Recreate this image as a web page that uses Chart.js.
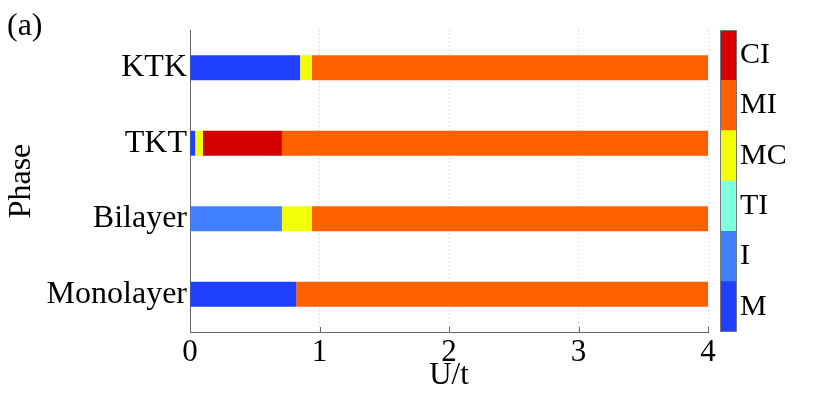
<!DOCTYPE html>
<html><head><meta charset="utf-8">
<script src="https://cdn.jsdelivr.net/npm/chart.js@4/dist/chart.umd.min.js"></script>
<style>
body{margin:0;background:#fff;width:830px;height:398px;overflow:hidden;position:relative;}
#main{position:absolute;left:0;top:0}
#cbar{position:absolute;left:700px;top:0}
#lab{position:absolute;left:7px;top:8px;font:32px/1 "Liberation Serif",serif;color:#000}
</style></head><body>
<canvas id="main" width="830" height="398"></canvas>
<canvas id="cbar" width="130" height="398"></canvas>
<div id="lab">(a)</div>
<script>
const categories = ['KTK','TKT','Bilayer','Monolayer'];
const phaseM  = [[0,0.85],[0,0.04],null,[0,0.82]];
const phaseI  = [null,null,[0,0.71],null];
const phaseTI = [null,null,null,null];
const phaseMC = [[0.85,0.94],[0.04,0.10],[0.71,0.94],null];
const phaseMI = [[0.94,4],[0.71,4],[0.94,4],[0.82,4]];
const phaseCI = [null,[0.10,0.71],null,null];
const xTicks = [0,1,2,3,4];
const cbarLabels = ['CI','MI','MC','TI','I','M'];
const cbarValues = [1,1,1,1,1,1];

const colors = {M:'#2040ff', I:'#4080ff', TI:'#80ffe0', MC:'#f2ff0a', MI:'#ff6000', CI:'#d40000'};
const serif = "'Liberation Serif', 'Times New Roman', serif";
Chart.defaults.font.family = serif;

const series = [['M',phaseM],['I',phaseI],['TI',phaseTI],['MC',phaseMC],['MI',phaseMI],['CI',phaseCI]];

const inwardTicks = {
  id:'inwardTicks',
  afterDatasetsDraw(chart){
    const x = chart.scales.x, ca = chart.chartArea, ctx = chart.ctx;
    ctx.save(); ctx.strokeStyle = '#666'; ctx.lineWidth = 1;
    xTicks.forEach(v => {
      const px = Math.round(x.getPixelForValue(v)) + 0.5;
      ctx.beginPath(); ctx.moveTo(px, ca.bottom); ctx.lineTo(px, ca.bottom - 5); ctx.stroke();
    });
    ctx.restore();
  }
};

new Chart(document.getElementById('main'), {
  type:'bar',
  data:{
    labels: categories,
    datasets: series.map(([name, vals]) => ({
      label: name, data: vals, backgroundColor: colors[name],
      grouped:false, barPercentage:0.33, categoryPercentage:1, borderWidth:0
    }))
  },
  options:{
    indexAxis:'y', responsive:false, animation:false,
    layout:{padding:{left:0, top:30, right:122, bottom:0}},
    plugins:{legend:{display:false}, tooltip:{enabled:false}},
    scales:{
      x:{
        type:'linear', min:0, max:4,
        afterBuildTicks: s => { s.ticks = xTicks.map(v => ({value:v})); },
        afterFit: s => { s.height = 66; },
        grid:{color:'#c4c4c4', drawTicks:false},
        border:{color:'#666', width:1, dash:[1,3]},
        ticks:{color:'#000', padding:2, font:{family:serif, size:31}},
        title:{display:true, text:'U/t', color:'#000', font:{family:serif, size:31}, padding:{top:0,bottom:4}}
      },
      y:{
        afterFit: s => { s.width = 190; },
        grid:{display:false, drawTicks:false},
        border:{color:'#666', width:1},
        ticks:{color:'#000', padding:3, font:{family:serif, size:32}},
        title:{display:true, text:'Phase', color:'#000', font:{family:serif, size:32}, padding:{top:2,bottom:0}}
      }
    }
  },
  plugins:[inwardTicks]
});

const frame = {
  id:'frame',
  afterDraw(chart){
    const ca = chart.chartArea, ctx = chart.ctx;
    ctx.save(); ctx.strokeStyle = '#777'; ctx.lineWidth = 1;
    ctx.strokeRect(ca.left + 0.5, ca.top + 0.5, ca.right - ca.left - 1, ca.bottom - ca.top - 1);
    ctx.restore();
  }
};

new Chart(document.getElementById('cbar'), {
  type:'bar',
  data:{
    labels: cbarLabels,
    datasets:[{data: cbarValues, backgroundColor: cbarLabels.map(k => colors[k]), barPercentage:1, categoryPercentage:1, borderWidth:0}]
  },
  options:{
    indexAxis:'y', responsive:false, animation:false,
    layout:{padding:{left:20, top:30, right:0, bottom:66}},
    plugins:{legend:{display:false}, tooltip:{enabled:false}},
    scales:{
      x:{display:false, min:0, max:1},
      y:{
        position:'right',
        afterFit: s => { s.width = 93; },
        grid:{display:false, drawTicks:false},
        border:{display:false},
        ticks:{color:'#000', padding:3, font:{family:serif, size:30}}
      }
    }
  },
  plugins:[frame]
});
</script>
</body></html>
